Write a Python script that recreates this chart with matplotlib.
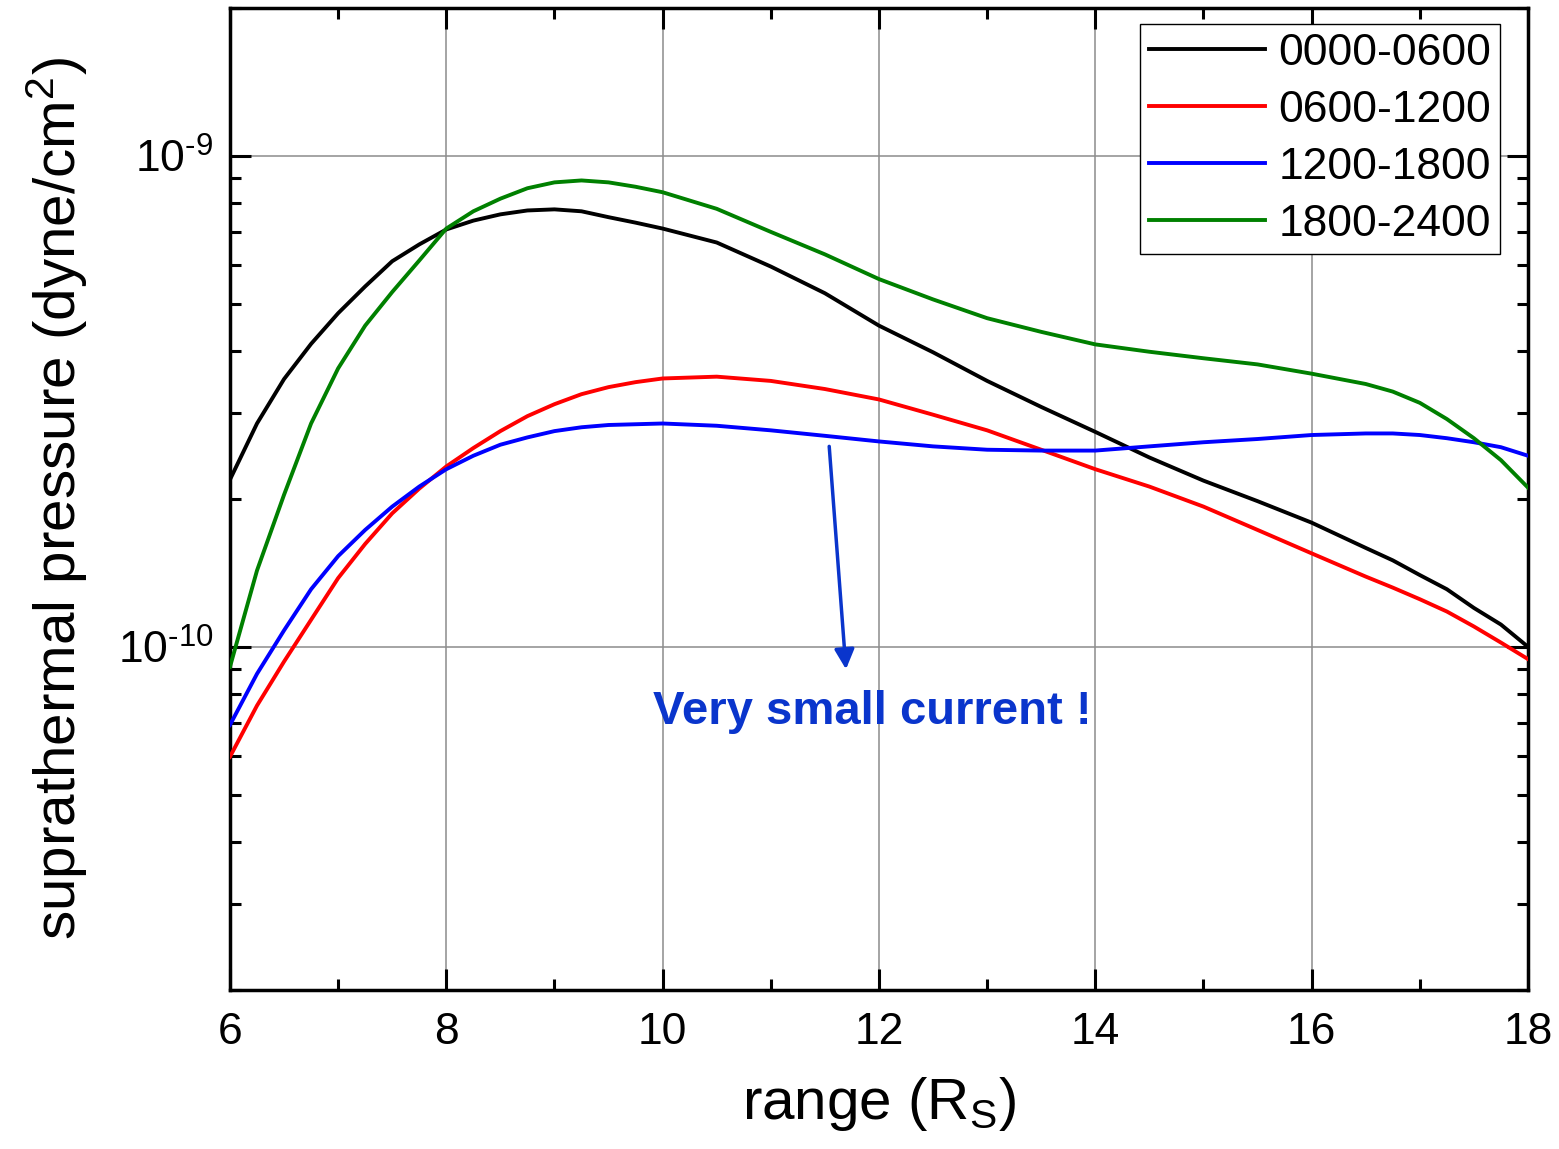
import matplotlib
matplotlib.use("Agg")
import matplotlib.pyplot as plt
from matplotlib.ticker import LogLocator, FixedLocator, NullFormatter, MultipleLocator

plt.rcParams['font.family'] = ['Liberation Sans', 'DejaVu Sans']
plt.rcParams['mathtext.fontset'] = 'custom'
plt.rcParams['mathtext.rm'] = 'Liberation Sans'
plt.rcParams['mathtext.it'] = 'Liberation Sans'
plt.rcParams['mathtext.bf'] = 'Liberation Sans:bold'

# range in R_S
r = [6, 6.25, 6.5, 6.75, 7, 7.25, 7.5, 7.75, 8, 8.25, 8.5, 8.75, 9, 9.25, 9.5, 9.75,
     10, 10.5, 11, 11.5, 12, 12.5, 13, 13.5, 14, 14.5, 15, 15.5, 16, 16.5, 16.75,
     17, 17.25, 17.5, 17.75, 18]

# suprathermal pressure (dyne/cm^2)
p_0000_0600 = [2.19e-10, 2.85e-10, 3.51e-10, 4.14e-10, 4.78e-10, 5.42e-10, 6.1e-10,
               6.6e-10, 7.08e-10, 7.38e-10, 7.6e-10, 7.74e-10, 7.78e-10, 7.71e-10,
               7.5e-10, 7.31e-10, 7.11e-10, 6.66e-10, 5.95e-10, 5.25e-10, 4.51e-10,
               3.98e-10, 3.48e-10, 3.08e-10, 2.74e-10, 2.43e-10, 2.18e-10, 1.98e-10,
               1.79e-10, 1.59e-10, 1.5e-10, 1.4e-10, 1.31e-10, 1.2e-10, 1.11e-10,
               1.0e-10]
p_0600_1200 = [5.97e-11, 7.59e-11, 9.33e-11, 1.135e-10, 1.38e-10, 1.62e-10, 1.87e-10,
               2.1e-10, 2.33e-10, 2.54e-10, 2.75e-10, 2.95e-10, 3.12e-10, 3.27e-10,
               3.38e-10, 3.46e-10, 3.52e-10, 3.55e-10, 3.48e-10, 3.35e-10, 3.19e-10,
               2.97e-10, 2.76e-10, 2.52e-10, 2.3e-10, 2.12e-10, 1.93e-10, 1.73e-10,
               1.55e-10, 1.39e-10, 1.32e-10, 1.25e-10, 1.18e-10, 1.1e-10, 1.02e-10,
               9.44e-11]
p_1200_1800 = [6.93e-11, 8.81e-11, 1.08e-10, 1.31e-10, 1.53e-10, 1.73e-10, 1.93e-10,
               2.12e-10, 2.3e-10, 2.45e-10, 2.58e-10, 2.67e-10, 2.75e-10, 2.8e-10,
               2.83e-10, 2.84e-10, 2.85e-10, 2.82e-10, 2.76e-10, 2.69e-10, 2.62e-10,
               2.56e-10, 2.52e-10, 2.51e-10, 2.51e-10, 2.56e-10, 2.61e-10, 2.65e-10,
               2.7e-10, 2.72e-10, 2.72e-10, 2.7e-10, 2.66e-10, 2.61e-10, 2.55e-10,
               2.45e-10]
p_1800_2400 = [9.1e-11, 1.43e-10, 2.04e-10, 2.85e-10, 3.69e-10, 4.51e-10, 5.28e-10,
               6.12e-10, 7.11e-10, 7.71e-10, 8.18e-10, 8.59e-10, 8.83e-10, 8.91e-10,
               8.83e-10, 8.65e-10, 8.43e-10, 7.8e-10, 7.0e-10, 6.3e-10, 5.61e-10,
               5.1e-10, 4.67e-10, 4.38e-10, 4.13e-10, 3.99e-10, 3.87e-10, 3.76e-10,
               3.6e-10, 3.43e-10, 3.31e-10, 3.14e-10, 2.91e-10, 2.66e-10, 2.4e-10,
               2.11e-10]

labels = ['0000-0600', '0600-1200', '1200-1800', '1800-2400']
colors = ['black', '#ff0000', '#0000ff', '#008000']
series = [p_0000_0600, p_0600_1200, p_1200_1800, p_1800_2400]

fig = plt.figure(figsize=(15.59, 11.49), dpi=100)
ax = fig.add_axes([0.1475, 0.1384, 0.8326, 0.8546])

for y, c, lab in zip(series, colors, labels):
    ax.plot(r, y, color=c, lw=2.8, label=lab, zorder=3)

ax.set_yscale('log')
ax.set_xlim(6, 18)
ax.set_ylim(2e-11, 2e-9)

ax.xaxis.set_major_locator(MultipleLocator(2))
ax.xaxis.set_minor_locator(MultipleLocator(1))
ax.yaxis.set_major_locator(FixedLocator([1e-10, 1e-9]))
ax.yaxis.set_minor_locator(LogLocator(base=10, subs=range(2, 10)))
ax.yaxis.set_minor_formatter(NullFormatter())
ax.set_yticklabels([r'$10^{\text{-}10}$', r'$10^{\text{-}9}$'])

ax.grid(True, which='major', color='#8c8c8c', lw=1.1, zorder=1)
ax.tick_params(which='both', direction='in', top=True, right=True, width=2.2,
               labelsize=32)
ax.tick_params(axis='x', pad=16)
ax.tick_params(axis='y', pad=12)
ax.tick_params(which='major', length=15)
ax.tick_params(which='minor', length=8)
for s in ax.spines.values():
    s.set_linewidth(2.5)

ax.set_xlabel(r'range (R$_S$)', fontsize=42, labelpad=16)
ax.set_ylabel(r'suprathermal pressure (dyne/cm$^2$)', fontsize=42, labelpad=20)

leg = ax.legend(loc='upper right', bbox_to_anchor=(0.9784, 0.9837), borderaxespad=0,
                fontsize=32, frameon=True, fancybox=False, edgecolor='black',
                framealpha=1, handlelength=2.6, handletextpad=0.3,
                labelspacing=0.36, borderpad=0.2)
leg.get_frame().set_linewidth(1.0)

ax.annotate('', xy=(11.695, 9.0e-11), xytext=(11.54, 2.56e-10),
            arrowprops=dict(arrowstyle='-|>', color='#0a35cc', lw=2.5,
                            mutation_scale=30, shrinkA=0, shrinkB=0), zorder=4)
ax.text(11.94, 7.35e-11, 'Very small current !', color='#0a35cc', fontsize=34,
        fontweight='bold', ha='center', va='center', zorder=4)

fig.savefig('out.png', dpi=100)
